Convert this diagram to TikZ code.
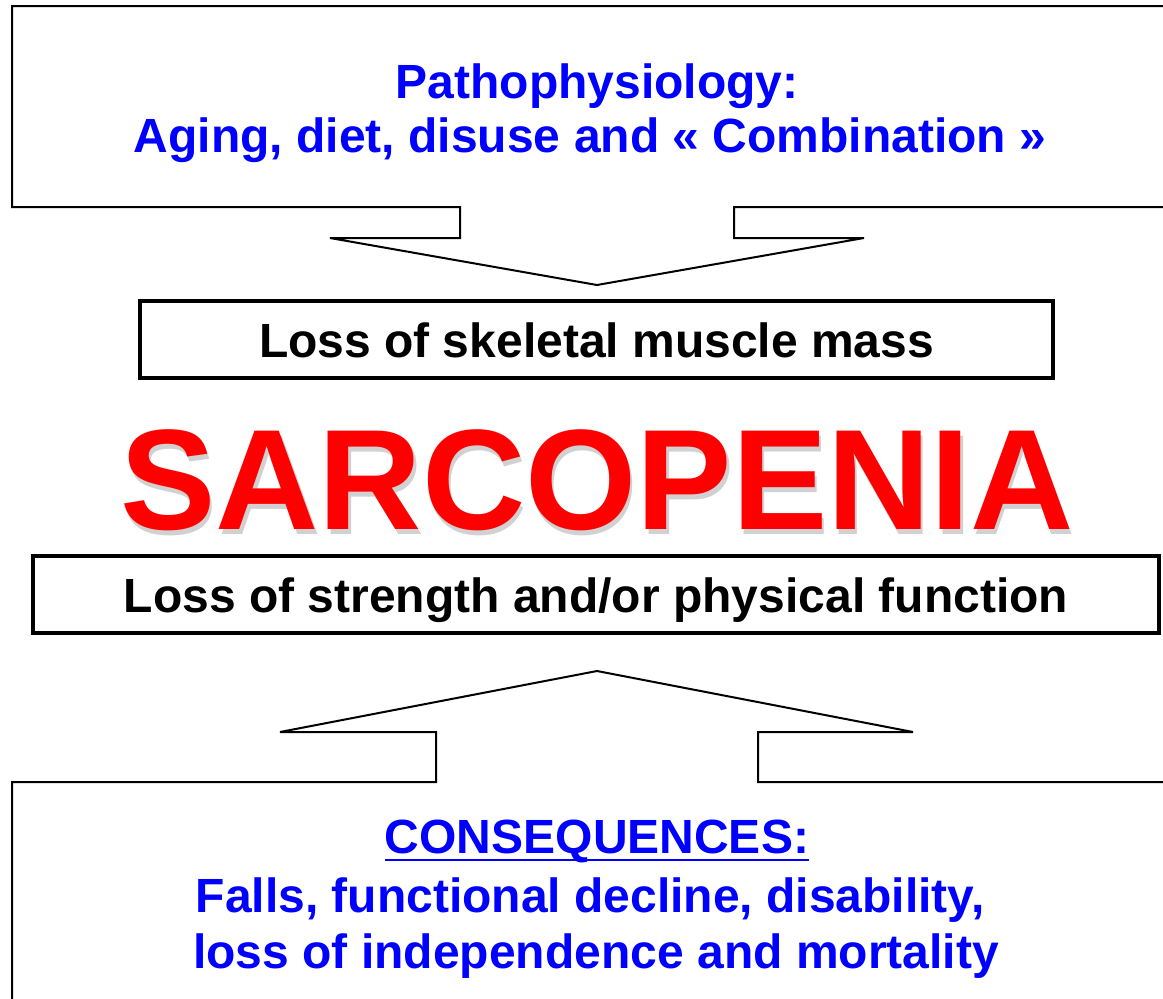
\documentclass[tikz,border=0pt]{standalone}
\usepackage{fontspec}
\setmainfont{Liberation Sans}
\usetikzlibrary{positioning,calc}
\tikzset{
  every node/.style={font=\bfseries, inner sep=0pt},
  callout/.style={draw, line width=2pt, line join=miter},
  stepbox/.style={
    draw, line width=3.5pt,
    minimum height=77pt, text height=35pt, text depth=0pt,
    font=\fontsize{48}{55}\selectfont\bfseries
  },
  bluetext/.style={text=blue, anchor=base, font=\fontsize{48}{55}\selectfont\bfseries},
  bigword/.style={text=red, anchor=base, font=\fontsize{143}{150}\selectfont\bfseries}
}

\begin{document}
\begin{tikzpicture}[x=1pt, y=-1pt]

\useasboundingbox (0,0) rectangle (1163,999);
\clip (0,0) rectangle (1163,999);

%% top callout: causes, pointing down
\draw[callout] (1180,6) -- (12,6) -- (12,207) -- (460,207) -- (460,238) -- (330,238)
  -- (597,285) -- (864,238) -- (734,238) -- (734,207) -- (1180,207);

\node[bluetext] (patho)  at (597,98)  {Pathophysiology:};
\node[bluetext] (causes) at (590,152) {Aging, diet, disuse and « Combination »};

%% mass loss
\node[stepbox, minimum width=913pt] (mass) at (596.5,339.5) {Loss of skeletal muscle mass};

%% title with soft shadow
\node[bigword, text=black, opacity=0.18] (shadow) at (599.5,534) {SARCOPENIA};
\node[bigword] (sarco) at (597,529) {SARCOPENIA};

%% strength loss
\node[stepbox, minimum width=1126pt] (strength) at (596,594.5) {Loss of strength and/or physical function};

%% bottom callout: consequences, pointing up
\draw[callout] (1180,782) -- (758,782) -- (758,732) -- (913,732) -- (597,671)
  -- (280,732) -- (436,732) -- (436,782) -- (12,782) -- (12,1010);

\node[bluetext] (cons)  at (597,853) {CONSEQUENCES:};
\draw[blue, line width=2.5pt] ([yshift=-7pt]cons.base west) -- ([yshift=-7pt]cons.base east);
\node[bluetext] (falls) at (590,912) {Falls, functional decline, disability,};
\node[bluetext] (loss)  at (596,968) {loss of independence and mortality};

\end{tikzpicture}
\end{document}
